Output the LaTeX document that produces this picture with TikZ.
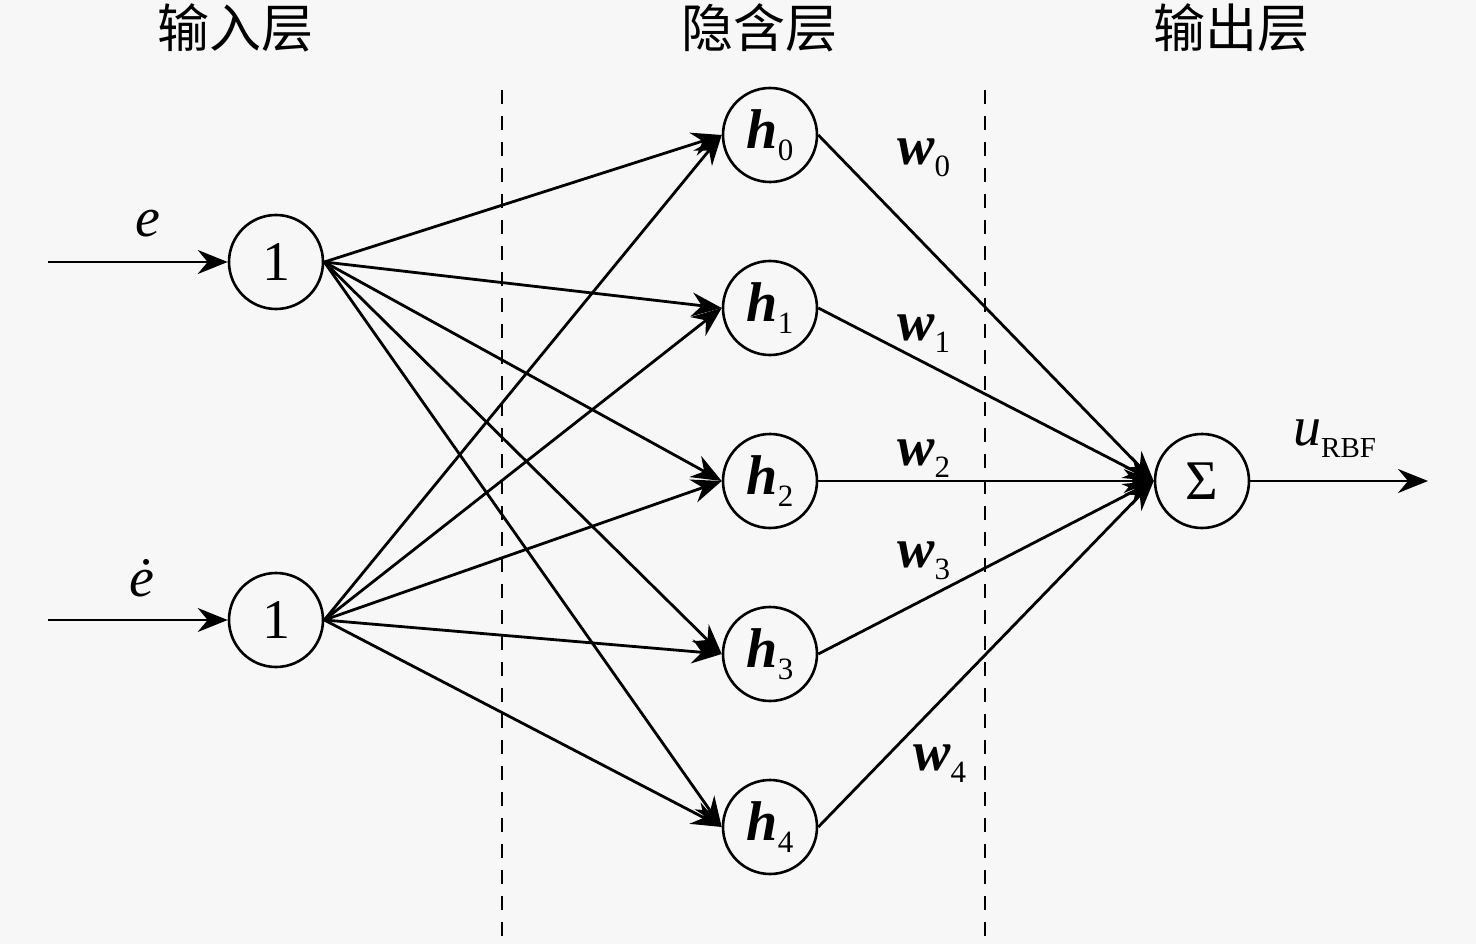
\documentclass[tikz,border=0pt]{standalone}
\usepackage{fontspec}
\setmainfont{Liberation Serif}
\newfontfamily\cjk{Noto Sans CJK SC}
\usetikzlibrary{arrows.meta}
\newcommand\bsub[2]{{\bfseries\itshape #1}\raisebox{-12pt}{\fontsize{31}{31}\selectfont #2}}
\begin{document}
\begin{tikzpicture}[x=1pt,y=-1pt,
  neuron/.style={draw, line width=2.6pt, circle, minimum size=94pt, inner sep=0pt, font=\fontsize{56}{56}\selectfont},
  conn/.style={line width=2.8pt, -{Stealth[length=30pt,width=24pt,inset=10pt]}},
  sep/.style={line width=2pt, dash pattern=on 14pt off 12pt},
  head/.style={font=\cjk\fontsize{52}{52}\selectfont, inner sep=0pt},
  lab/.style={font=\fontsize{56}{56}\selectfont, inner sep=0pt, anchor=base west}
]
\useasboundingbox (0,0) rectangle (1476,944);
\fill[black!3] (0,0) rectangle (1476,944);

% headers
\node[head] (t1) at (235,28) {输入层};
\node[head] (t2) at (759,28) {隐含层};
\node[head] (t3) at (1231,28) {输出层};

% separators
\draw[sep] (502,90) -- (502,944);
\draw[sep] (985,90) -- (985,944);

% nodes
\node[neuron] (i1) at (276,262) {1};
\node[neuron] (i2) at (276,620) {1};
\node[neuron] (h0) at (770,135) {\bsub{h}{0}};
\node[neuron] (h1) at (770,308) {\bsub{h}{1}};
\node[neuron] (h2) at (770,481) {\bsub{h}{2}};
\node[neuron] (h3) at (770,654) {\bsub{h}{3}};
\node[neuron] (h4) at (770,827) {\bsub{h}{4}};
\node[neuron] (s) at (1202,481) {Σ};

% inputs
\coordinate (e1) at (48,262);
\coordinate (e2) at (48,620);
\coordinate (out) at (1428,481);
\draw[conn] (e1) -- (i1.west);
\draw[conn] (e2) -- (i2.west);
\draw[conn] (s.east) -- (out);

\node[lab, anchor=base] (le) at (148,237) {\itshape e};
\node[lab, anchor=base] (led) at (142,596) {\itshape \.e};
\node[lab] (lu) at (1293,445) {\itshape u\raisebox{-12pt}{\upshape\fontsize{29}{29}\selectfont RBF}};

% input -> hidden
\foreach \i in {i1,i2}{
  \foreach \h in {h0,h1,h2,h3,h4}{
    \draw[conn] (\i.east) -- (\h.west);
  }
}
% hidden -> sum
\foreach \h in {h0,h1,h2,h3,h4}{
  \draw[conn] (\h.east) -- (s.west);
}

% weights
\node[lab] (w0) at (897,165) {\bsub{w}{0}};
\node[lab] (w1) at (897,340) {\bsub{w}{1}};
\node[lab] (w2) at (897,465) {\bsub{w}{2}};
\node[lab] (w3) at (897,567) {\bsub{w}{3}};
\node[lab] (w4) at (913,770) {\bsub{w}{4}};
\end{tikzpicture}
\end{document}
